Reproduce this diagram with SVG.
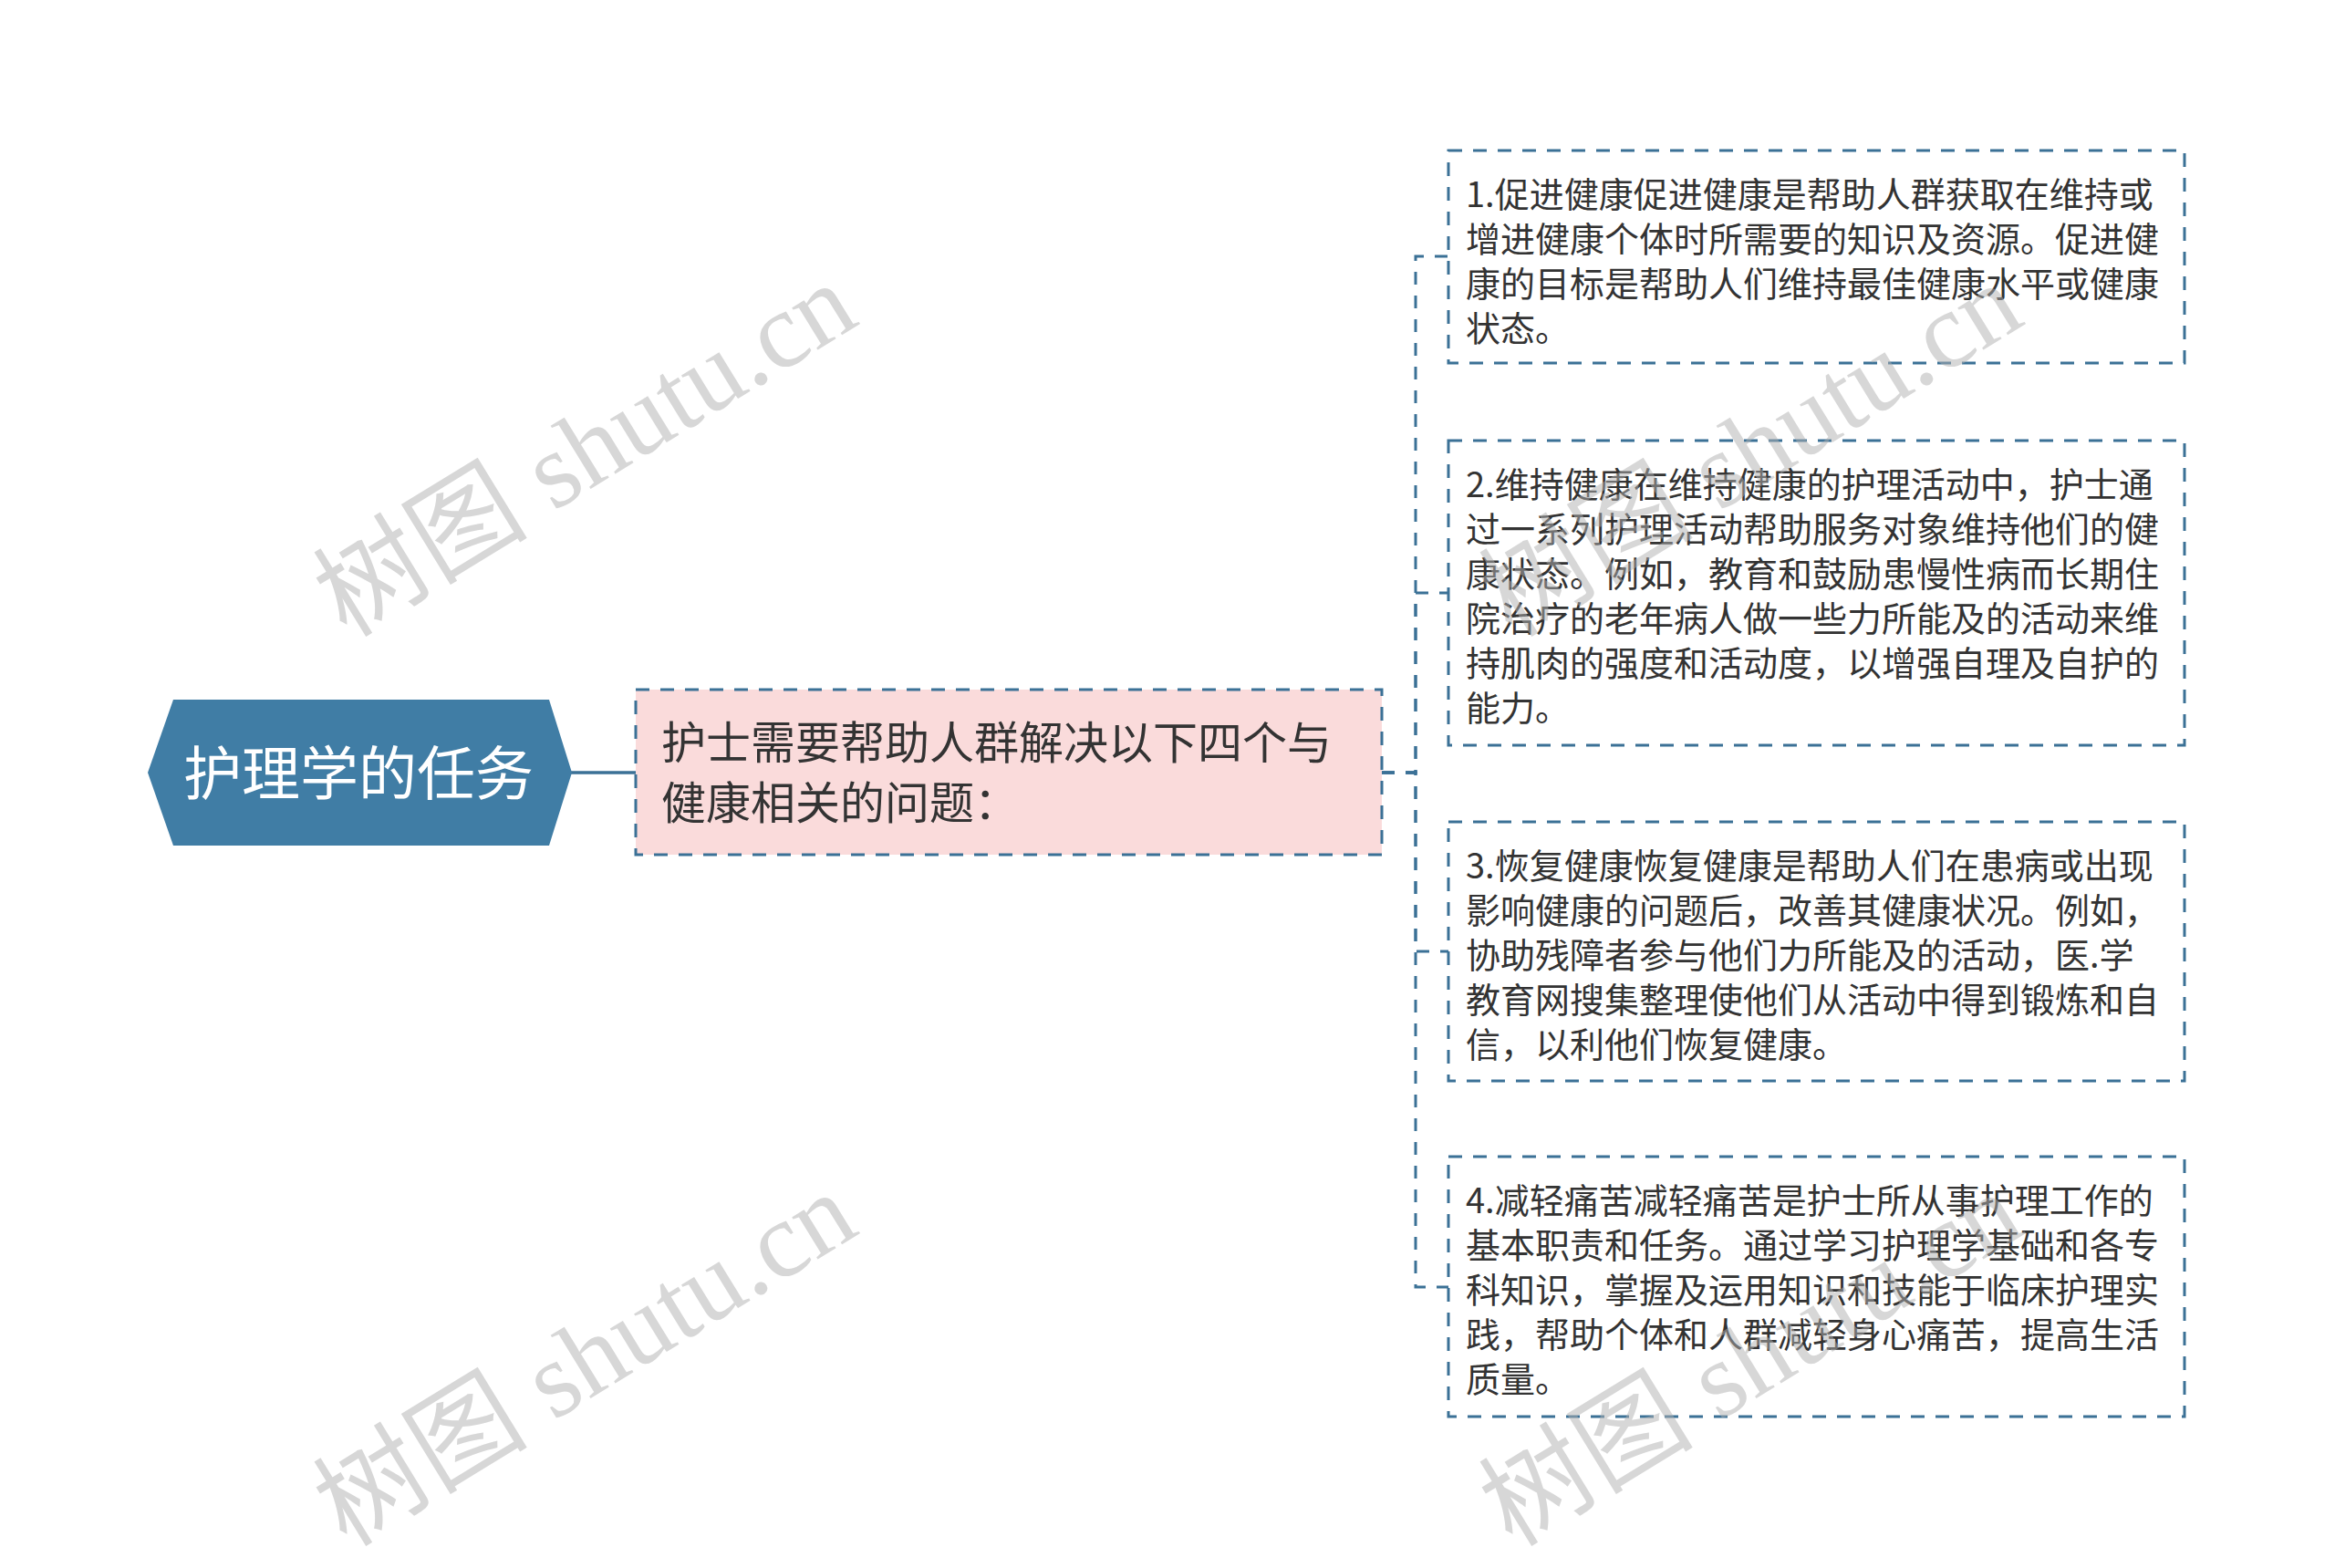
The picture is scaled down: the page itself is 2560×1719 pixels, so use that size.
<svg xmlns="http://www.w3.org/2000/svg" width="2560" height="1719" viewBox="0 0 2560 1719">
<style>
.conn{fill:none;stroke:#3b7196;stroke-width:3;stroke-dasharray:14 12}
.box{fill:#ffffff;stroke:#3b7196;stroke-width:3;stroke-dasharray:15 12}
.t{font-family:"Noto Sans CJK SC","Noto Sans",sans-serif;fill:#333333}
.ct{font-size:38px}
.wm{font-family:"Liberation Serif","Noto Sans CJK SC",serif;font-size:118px;fill:#b0b0b0;opacity:0.5}
</style>
<rect x="0" y="0" width="2560" height="1719" fill="#ffffff"/>
<g id="connectors">
<line x1="626" y1="847" x2="697" y2="847" stroke="#3b7196" stroke-width="3.5"/>
<path class="conn" d="M1515,847 H1552 V281 H1588"/>
<path class="conn" d="M1515,847 H1552 V650 H1588"/>
<path class="conn" d="M1515,847 H1552 V1043 H1588"/>
<path class="conn" d="M1515,847 H1552 V1411 H1588"/>
</g>
<g id="root">
<polygon points="162,847 190,767 602,767 627,847 602,927 190,927" fill="#407da5"/>
<text class="t" x="393" y="871" text-anchor="middle" font-size="64" style="fill:#ffffff">护理学的任务</text>
</g>
<g id="main">
<rect x="697" y="756" width="818" height="181" fill="#fadbdb" stroke="#3b7196" stroke-width="3" stroke-dasharray="15 12"/>
<text class="t" font-size="49"><tspan x="725" y="832">护士需要帮助人群解决以下四个与</tspan><tspan x="725" y="898">健康相关的问题：</tspan></text>
</g>
<g id="child1">
<rect class="box" x="1588" y="165" width="807" height="233"/>
<text class="t ct"><tspan x="1607" y="227">1.促进健康促进健康是帮助人群获取在维持或</tspan><tspan x="1607" y="276">增进健康个体时所需要的知识及资源。促进健</tspan><tspan x="1607" y="325">康的目标是帮助人们维持最佳健康水平或健康</tspan><tspan x="1607" y="374">状态。</tspan></text>
</g>
<g id="child2">
<rect class="box" x="1588" y="483" width="807" height="334"/>
<text class="t ct"><tspan x="1607" y="545">2.维持健康在维持健康的护理活动中，护士通</tspan><tspan x="1607" y="594">过一系列护理活动帮助服务对象维持他们的健</tspan><tspan x="1607" y="643">康状态。例如，教育和鼓励患慢性病而长期住</tspan><tspan x="1607" y="692">院治疗的老年病人做一些力所能及的活动来维</tspan><tspan x="1607" y="741">持肌肉的强度和活动度，以增强自理及自护的</tspan><tspan x="1607" y="790">能力。</tspan></text>
</g>
<g id="child3">
<rect class="box" x="1588" y="901" width="807" height="284"/>
<text class="t ct"><tspan x="1607" y="963">3.恢复健康恢复健康是帮助人们在患病或出现</tspan><tspan x="1607" y="1012">影响健康的问题后，改善其健康状况。例如，</tspan><tspan x="1607" y="1061">协助残障者参与他们力所能及的活动，医.学</tspan><tspan x="1607" y="1110">教育网搜集整理使他们从活动中得到锻炼和自</tspan><tspan x="1607" y="1159">信，以利他们恢复健康。</tspan></text>
</g>
<g id="child4">
<rect class="box" x="1588" y="1268" width="807" height="285"/>
<text class="t ct"><tspan x="1607" y="1330">4.减轻痛苦减轻痛苦是护士所从事护理工作的</tspan><tspan x="1607" y="1379">基本职责和任务。通过学习护理学基础和各专</tspan><tspan x="1607" y="1428">科知识，掌握及运用知识和技能于临床护理实</tspan><tspan x="1607" y="1477">践，帮助个体和人群减轻身心痛苦，提高生活</tspan><tspan x="1607" y="1526">质量。</tspan></text>
</g>
<g id="watermarks">
<text class="wm" transform="translate(380,700) rotate(-31.5)">树图 shutu.cn</text>
<text class="wm" transform="translate(1658,700) rotate(-31.5)">树图 shutu.cn</text>
<text class="wm" transform="translate(380,1697) rotate(-31.5)">树图 shutu.cn</text>
<text class="wm" transform="translate(1658,1697) rotate(-31.5)">树图 shutu.cn</text>
</g>
</svg>
